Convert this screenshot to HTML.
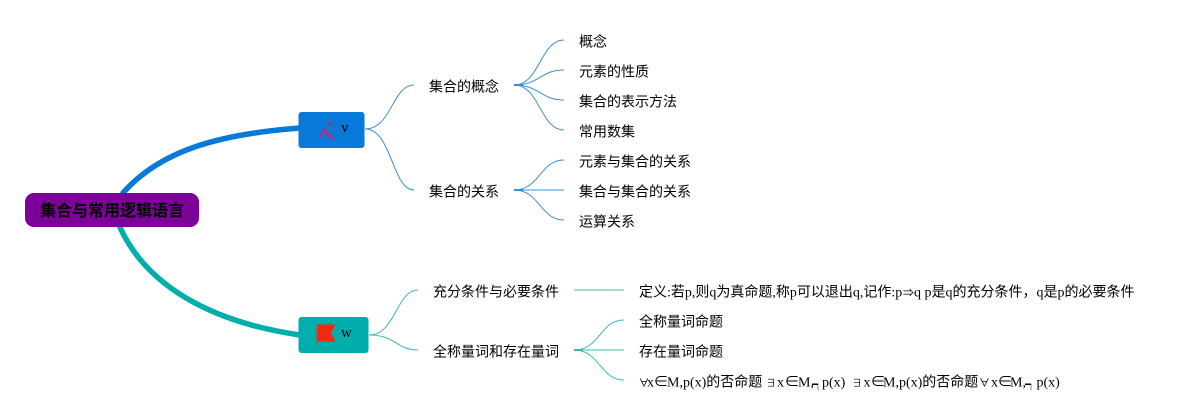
<!DOCTYPE html>
<html>
<head>
<meta charset="utf-8">
<style>
html,body{margin:0;padding:0;background:#fff;width:1195px;height:420px;overflow:hidden}
svg{display:block}
text{font-family:"Liberation Serif","Noto Sans CJK SC",serif;font-size:14px;fill:#000}
.s{font-size:10px}
.a{font-size:11px}
.n{font-size:15px}
.g{font-size:12px}
</style>
</head>
<body>
<svg width="1195" height="420" viewBox="0 0 1195 420" xmlns="http://www.w3.org/2000/svg">
<rect width="1195" height="420" fill="#fff"/>
<!-- main branches -->
<path d="M122 194 C160 150 220 134 300 128" fill="none" stroke="#0779d9" stroke-width="5.500"/>
<path d="M119 225 C145 285 210 322 300 335" fill="none" stroke="#00aeac" stroke-width="5.500"/>
<!-- root -->
<rect x="25" y="193" width="174" height="34" rx="9" fill="#7d0099"/>
<text x="40" y="216" style="font-size:16px;font-weight:bold;font-family:'Noto Sans CJK SC',sans-serif">集合与常用逻辑语言</text>
<!-- blue node -->
<rect x="298.500" y="112" width="66" height="36" rx="3" fill="#0779d9"/>
<g stroke="#c4286e" fill="#c4286e">
<path d="M323 129 L333 139" stroke-width="3.500" stroke-dasharray="2 1" fill="none"/>
<circle cx="320.500" cy="135" r="2" stroke="none"/>
<circle cx="330" cy="123.500" r="1.800" stroke="none"/>
</g>
<text x="341" y="132" style="font-size:15px">v</text>
<!-- teal node -->
<rect x="298.500" y="317" width="70" height="36" rx="3" fill="#00aeac"/>
<path d="M317 324.500 H335.500 L331 333 L335.500 341.500 H317 Z" fill="#f0290f"/>
<path d="M317 324.500 V345" stroke="#c9453a" stroke-width="1" fill="none"/>
<text x="341" y="337" style="font-size:15px">w</text>
<!-- blue connectors -->
<g fill="none" stroke="#3b8fd0" stroke-width="1">
<path d="M365 129 C392 129 392 85 414 85"/>
<path d="M365 129 C392 129 392 190 414 190"/>
<path d="M514 85 C540 85 540 40 564 40"/>
<path d="M514 85 C540 85 540 70 564 70"/>
<path d="M514 85 C540 85 540 100 564 100"/>
<path d="M514 85 C540 85 540 130 564 130"/>
<path d="M514 190 C540 190 540 160 564 160"/>
<path d="M514 190 H564"/>
<path d="M514 190 C540 190 540 220 564 220"/>
<path d="M514 85 H523 M514 190 H523" stroke-width="2"/>
</g>
<!-- teal connectors -->
<g fill="none" stroke="#3ab8b6" stroke-width="1">
<path d="M369 335 C396 335 396 290 418 290"/>
<path d="M369 335 C396 335 396 350 418 350"/>
<path d="M574 290 H624"/>
<path d="M574 350 C600 350 600 320 624 320"/>
<path d="M574 350 H624"/>
<path d="M574 350 C600 350 600 380 624 380"/>
<path d="M574 350 H583" stroke-width="2"/>
</g>
<!-- level 2 labels -->
<text x="429" y="91.500">集合的概念</text>
<text x="429" y="196.500">集合的关系</text>
<text x="433" y="296.500">充分条件与必要条件</text>
<text x="433" y="356.500">全称量词和存在量词</text>
<!-- level 3 labels -->
<text x="579" y="46.500">概念</text>
<text x="579" y="76.500">元素的性质</text>
<text x="579" y="106.500">集合的表示方法</text>
<text x="579" y="136.500">常用数集</text>
<text x="579" y="166.500">元素与集合的关系</text>
<text x="579" y="196.500">集合与集合的关系</text>
<text x="579" y="226.500">运算关系</text>
<text x="639" y="296.500">定义:若p,则q为真命题,称p可以退出q,记作:p<tspan class="a" x="903">⇒</tspan><tspan x="914">q p是q的充分条件，q是p的必要条件</tspan></text>
<text x="639" y="326.500">全称量词命题</text>
<text x="639" y="356.500">存在量词命题</text>
<text y="386.500"><tspan class="a" x="638.500">∀</tspan><tspan x="647">x</tspan><tspan class="n" x="653.500">∈</tspan><tspan x="667">M,p(x)的否命题</tspan><tspan class="s" x="766">∃</tspan><tspan x="777">x</tspan><tspan class="n" x="784.500">∈</tspan><tspan x="798">M,</tspan><tspan class="g" x="812" dy="2">┑</tspan><tspan x="822" dy="-2">p(x)</tspan><tspan class="s" x="852">∃</tspan><tspan x="863.500">x</tspan><tspan class="n" x="870.500">∈</tspan><tspan x="883">M,p(x)的否命题</tspan><tspan class="a" x="979">∀</tspan><tspan x="991">x</tspan><tspan class="n" x="997.500">∈</tspan><tspan x="1010">M,</tspan><tspan class="g" x="1025" dy="2">┑</tspan><tspan x="1036.500" dy="-2">p(x)</tspan></text>
</svg>
</body>
</html>
